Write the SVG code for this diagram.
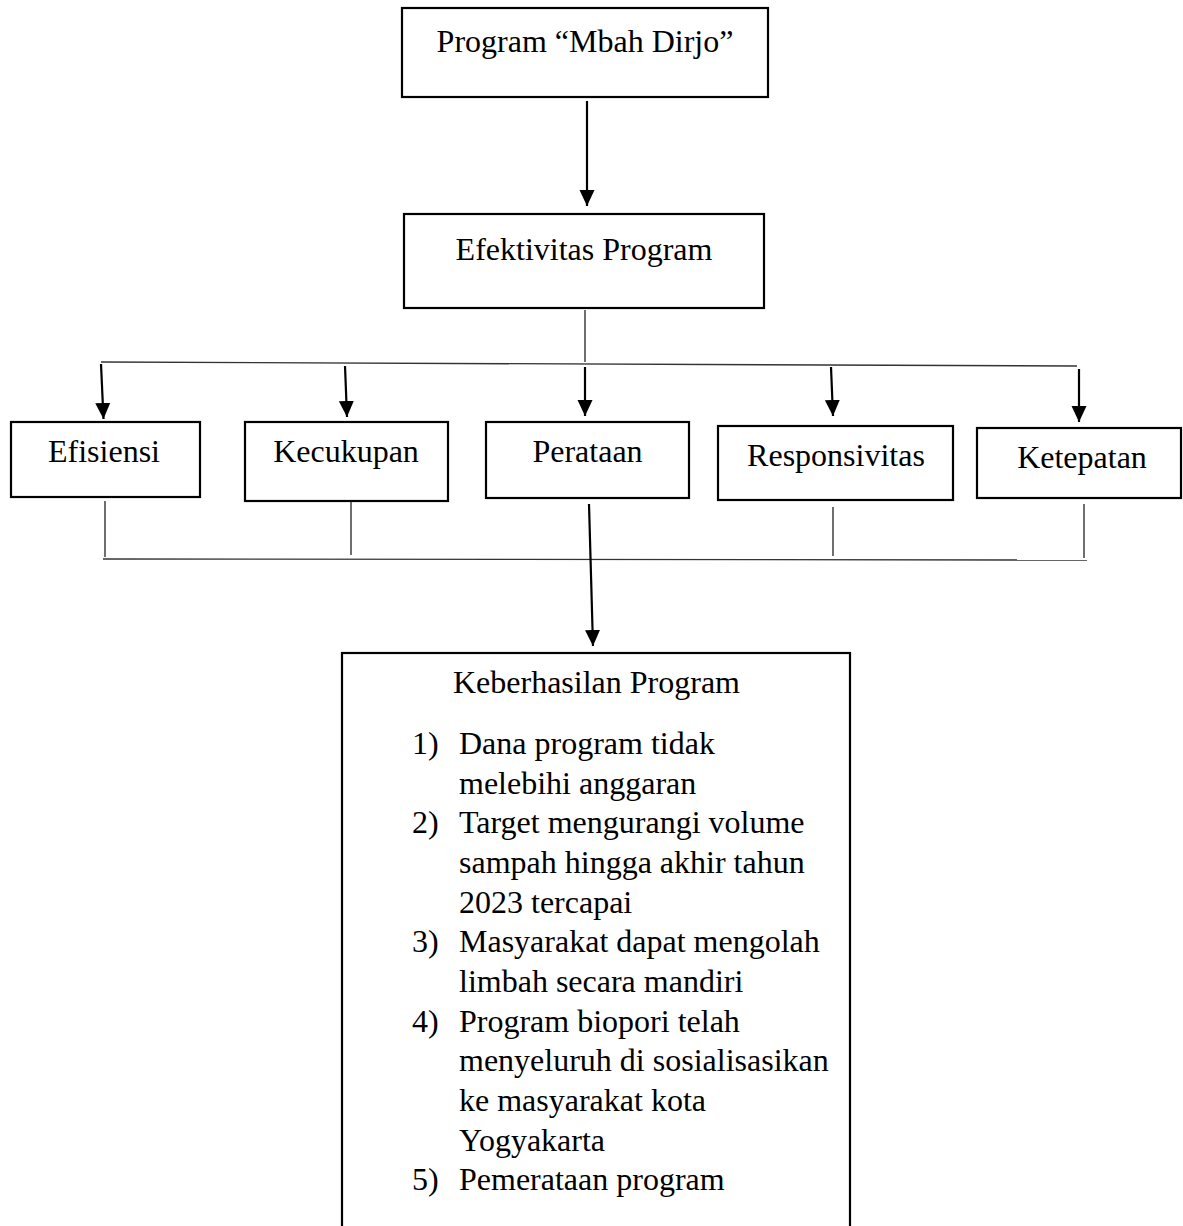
<svg xmlns="http://www.w3.org/2000/svg" width="1183" height="1226" viewBox="0 0 1183 1226">
<style>
.box{fill:#fff;stroke:#000;stroke-width:2.2}
.t{font-family:"Liberation Serif","Times New Roman",serif;font-size:32px;fill:#000}
.c{text-anchor:middle}
.arr{stroke:#000;stroke-width:2.2;fill:none;marker-end:url(#ah)}
.ln{stroke:#333;stroke-width:1.4;fill:none}
</style>
<defs>
<marker id="ah" markerUnits="userSpaceOnUse" markerWidth="17" markerHeight="16" refX="16" refY="7.5" orient="auto" viewBox="0 0 17 16">
<path d="M0,0 L16,7.5 L0,15 z" fill="#000"/>
</marker>
</defs>
<rect width="1183" height="1226" fill="#fff"/>
<g id="connectors">
<line class="arr" x1="587" y1="101" x2="587" y2="206"/>
<line class="ln" x1="585" y1="310" x2="585" y2="362"/>
<line class="ln" x1="101" y1="362" x2="1077" y2="366"/>
<line class="arr" x1="101" y1="364" x2="103.5" y2="419"/>
<line class="arr" x1="345" y1="366" x2="347" y2="417"/>
<line class="arr" x1="585" y1="367" x2="585" y2="416"/>
<line class="arr" x1="831" y1="367" x2="833" y2="416"/>
<line class="arr" x1="1079" y1="369" x2="1079" y2="422"/>
<line class="ln" x1="105" y1="501" x2="105" y2="557"/>
<line class="ln" x1="351" y1="502" x2="351" y2="555"/>
<line class="ln" x1="833" y1="507" x2="833" y2="556"/>
<line class="ln" x1="1084" y1="504" x2="1084" y2="558"/>
<line class="ln" x1="103" y1="559" x2="1087" y2="560"/>
<line class="arr" x1="589" y1="504" x2="593" y2="646"/>
</g>
<g id="program">
<rect class="box" x="402" y="8" width="366" height="89"/>
<text class="t c" x="585" y="52">Program “Mbah Dirjo”</text>
</g>
<g id="efektivitas">
<rect class="box" x="404" y="214" width="360" height="94"/>
<text class="t c" x="584" y="260">Efektivitas Program</text>
</g>
<g id="efisiensi">
<rect class="box" x="11" y="422" width="189" height="75"/>
<text class="t c" x="104" y="462">Efisiensi</text>
</g>
<g id="kecukupan">
<rect class="box" x="245" y="422" width="203" height="79"/>
<text class="t c" x="346" y="462">Kecukupan</text>
</g>
<g id="perataan">
<rect class="box" x="486" y="422" width="203" height="76"/>
<text class="t c" x="587.5" y="462">Perataan</text>
</g>
<g id="responsivitas">
<rect class="box" x="718" y="426" width="235" height="74"/>
<text class="t c" x="836" y="466">Responsivitas</text>
</g>
<g id="ketepatan">
<rect class="box" x="977" y="428" width="204" height="70"/>
<text class="t c" x="1082" y="468">Ketepatan</text>
</g>
<g id="keberhasilan">
<rect class="box" x="342" y="653" width="508" height="600"/>
<text class="t c" x="596.5" y="693">Keberhasilan Program</text>
<text class="t" x="412" y="754">1)</text>
<text class="t" x="459" y="754">Dana program tidak</text>
<text class="t" x="459" y="793.7">melebihi anggaran</text>
<text class="t" x="412" y="833.3">2)</text>
<text class="t" x="459" y="833.3">Target mengurangi volume</text>
<text class="t" x="459" y="873">sampah hingga akhir tahun</text>
<text class="t" x="459" y="912.7">2023 tercapai</text>
<text class="t" x="412" y="952.3">3)</text>
<text class="t" x="459" y="952.3">Masyarakat dapat mengolah</text>
<text class="t" x="459" y="992">limbah secara mandiri</text>
<text class="t" x="412" y="1031.7">4)</text>
<text class="t" x="459" y="1031.7">Program biopori telah</text>
<text class="t" x="459" y="1071.3">menyeluruh di sosialisasikan</text>
<text class="t" x="459" y="1111">ke masyarakat kota</text>
<text class="t" x="459" y="1150.7">Yogyakarta</text>
<text class="t" x="412" y="1190.3">5)</text>
<text class="t" x="459" y="1190.3">Pemerataan program</text>
</g>
</svg>
